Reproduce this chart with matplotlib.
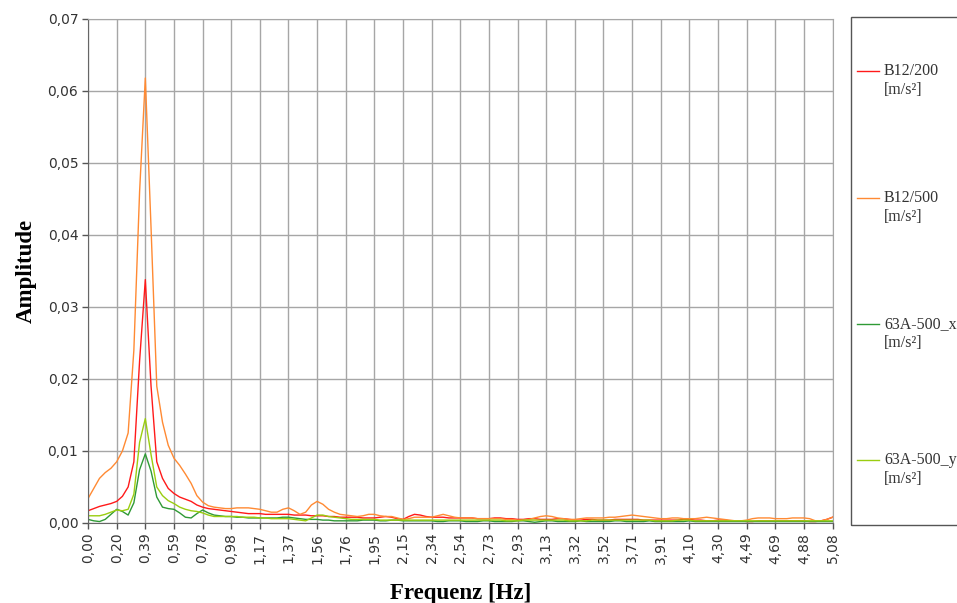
import numpy as np
import matplotlib
matplotlib.use("Agg")
import matplotlib.pyplot as plt
from matplotlib.patches import Rectangle
from matplotlib.lines import Line2D

# frequency resolution of the spectrum (Hz per bin)
df = 0.0390625

tick_labels = ["0,00", "0,20", "0,39", "0,59", "0,78", "0,98", "1,17", "1,37", "1,56",
               "1,76", "1,95", "2,15", "2,34", "2,54", "2,73", "2,93", "3,13", "3,32",
               "3,52", "3,71", "3,91", "4,10", "4,30", "4,49", "4,69", "4,88", "5,08"]

series_names = ["B12/200\n[m/s²]", "B12/500\n[m/s²]", "63A-500_x\n[m/s²]", "63A-500_y\n[m/s²]"]
series_colors = ["#ff1a1a", "#ff8a33", "#2f9a35", "#9acd10"]

b12_200 = [
    0.0017, 0.0020, 0.0023, 0.0025, 0.0027, 0.0030, 0.0037, 0.0050, 0.0085, 0.0225,
    0.0338, 0.0190, 0.0085, 0.0062, 0.0048, 0.0041, 0.0036, 0.0033, 0.0030, 0.0025,
    0.0022, 0.0020, 0.0019, 0.0018, 0.0017, 0.0016, 0.0015, 0.0014, 0.0013, 0.0013,
    0.0013, 0.0012, 0.0012, 0.0012, 0.0012, 0.0012, 0.0011, 0.0011, 0.0011, 0.0010,
    0.0010, 0.0010, 0.0009, 0.0009, 0.0008, 0.0008, 0.0008, 0.0008, 0.0007, 0.0007,
    0.0007, 0.0008, 0.0009, 0.0008, 0.0006, 0.0005, 0.0009, 0.0012, 0.0011, 0.0009,
    0.0008, 0.0008, 0.0008, 0.0007, 0.0007, 0.0007, 0.0007, 0.0007, 0.0006, 0.0006,
    0.0006, 0.0007, 0.0007, 0.0006, 0.0006, 0.0005, 0.0005, 0.0006, 0.0006, 0.0005,
    0.0005, 0.0005, 0.0006, 0.0006, 0.0005, 0.0004, 0.0004, 0.0005, 0.0005, 0.0004,
    0.0004, 0.0004, 0.0005, 0.0005, 0.0005, 0.0005, 0.0005, 0.0004, 0.0004, 0.0004,
    0.0004, 0.0004, 0.0004, 0.0004, 0.0005, 0.0005, 0.0004, 0.0004, 0.0003, 0.0003,
    0.0004, 0.0004, 0.0003, 0.0003, 0.0003, 0.0002, 0.0002, 0.0003, 0.0003, 0.0003,
    0.0003, 0.0003, 0.0003, 0.0003, 0.0003, 0.0003, 0.0002, 0.0002, 0.0003, 0.0005,
    0.0008]

b12_500 = [
    0.0034, 0.0048, 0.0062, 0.0070, 0.0076, 0.0085, 0.0100, 0.0125, 0.0240, 0.0460,
    0.0618, 0.0410, 0.0190, 0.0140, 0.0108, 0.0090, 0.0080, 0.0068, 0.0055, 0.0038,
    0.0029, 0.0024, 0.0022, 0.0021, 0.0020, 0.0020, 0.0021, 0.0021, 0.0021, 0.0020,
    0.0019, 0.0017, 0.0015, 0.0015, 0.0019, 0.0021, 0.0017, 0.0012, 0.0015, 0.0025,
    0.0030, 0.0026, 0.0019, 0.0015, 0.0012, 0.0011, 0.0010, 0.0009, 0.0010, 0.0012,
    0.0012, 0.0010, 0.0009, 0.0009, 0.0007, 0.0005, 0.0006, 0.0008, 0.0008, 0.0008,
    0.0008, 0.0010, 0.0012, 0.0010, 0.0008, 0.0007, 0.0007, 0.0007, 0.0006, 0.0006,
    0.0006, 0.0006, 0.0006, 0.0005, 0.0005, 0.0004, 0.0004, 0.0005, 0.0007, 0.0009,
    0.0010, 0.0009, 0.0007, 0.0006, 0.0005, 0.0005, 0.0006, 0.0007, 0.0007, 0.0007,
    0.0007, 0.0008, 0.0008, 0.0009, 0.0010, 0.0011, 0.0010, 0.0009, 0.0008, 0.0007,
    0.0006, 0.0006, 0.0007, 0.0007, 0.0006, 0.0006, 0.0006, 0.0007, 0.0008, 0.0007,
    0.0006, 0.0005, 0.0004, 0.0003, 0.0003, 0.0004, 0.0006, 0.0007, 0.0007, 0.0007,
    0.0006, 0.0006, 0.0006, 0.0007, 0.0007, 0.0007, 0.0006, 0.0003, 0.0003, 0.0005,
    0.0008]

a63_x = [
    0.0005, 0.0003, 0.0002, 0.0005, 0.0012, 0.0019, 0.0016, 0.0011, 0.0028, 0.0074,
    0.0096, 0.0072, 0.0036, 0.0022, 0.0020, 0.0019, 0.0014, 0.0008, 0.0007, 0.0013,
    0.0018, 0.0014, 0.0011, 0.0010, 0.0009, 0.0009, 0.0008, 0.0008, 0.0007, 0.0007,
    0.0007, 0.0007, 0.0007, 0.0007, 0.0008, 0.0008, 0.0007, 0.0006, 0.0005, 0.0005,
    0.0005, 0.0004, 0.0004, 0.0003, 0.0003, 0.0003, 0.0003, 0.0003, 0.0004, 0.0004,
    0.0004, 0.0003, 0.0003, 0.0004, 0.0004, 0.0003, 0.0003, 0.0003, 0.0003, 0.0003,
    0.0003, 0.0002, 0.0002, 0.0003, 0.0003, 0.0003, 0.0002, 0.0002, 0.0002, 0.0003,
    0.0003, 0.0002, 0.0002, 0.0002, 0.0002, 0.0003, 0.0003, 0.0002, 0.0001, 0.0002,
    0.0003, 0.0003, 0.0002, 0.0002, 0.0002, 0.0002, 0.0003, 0.0002, 0.0002, 0.0002,
    0.0002, 0.0002, 0.0003, 0.0003, 0.0002, 0.0002, 0.0002, 0.0002, 0.0003, 0.0002,
    0.0002, 0.0002, 0.0002, 0.0002, 0.0002, 0.0003, 0.0002, 0.0002, 0.0002, 0.0002,
    0.0002, 0.0002, 0.0002, 0.0002, 0.0002, 0.0002, 0.0002, 0.0002, 0.0002, 0.0002,
    0.0002, 0.0002, 0.0002, 0.0002, 0.0002, 0.0002, 0.0002, 0.0002, 0.0002, 0.0002,
    0.0002]

a63_y = [
    0.0010, 0.0010, 0.0010, 0.0012, 0.0015, 0.0018, 0.0017, 0.0019, 0.0040, 0.0112,
    0.0145, 0.0095, 0.0050, 0.0038, 0.0031, 0.0027, 0.0022, 0.0019, 0.0017, 0.0016,
    0.0014, 0.0011, 0.0009, 0.0009, 0.0009, 0.0009, 0.0009, 0.0008, 0.0008, 0.0008,
    0.0007, 0.0007, 0.0006, 0.0006, 0.0006, 0.0006, 0.0005, 0.0004, 0.0003, 0.0007,
    0.0011, 0.0011, 0.0009, 0.0008, 0.0007, 0.0006, 0.0005, 0.0005, 0.0005, 0.0005,
    0.0005, 0.0004, 0.0004, 0.0004, 0.0004, 0.0004, 0.0004, 0.0004, 0.0004, 0.0004,
    0.0004, 0.0004, 0.0004, 0.0004, 0.0004, 0.0004, 0.0004, 0.0004, 0.0004, 0.0004,
    0.0004, 0.0004, 0.0004, 0.0003, 0.0003, 0.0003, 0.0004, 0.0004, 0.0004, 0.0004,
    0.0004, 0.0004, 0.0004, 0.0004, 0.0003, 0.0003, 0.0003, 0.0003, 0.0004, 0.0004,
    0.0004, 0.0004, 0.0004, 0.0004, 0.0004, 0.0004, 0.0004, 0.0004, 0.0004, 0.0003,
    0.0003, 0.0003, 0.0003, 0.0004, 0.0004, 0.0004, 0.0003, 0.0003, 0.0003, 0.0003,
    0.0003, 0.0003, 0.0003, 0.0003, 0.0003, 0.0003, 0.0003, 0.0003, 0.0003, 0.0003,
    0.0003, 0.0003, 0.0003, 0.0003, 0.0003, 0.0003, 0.0003, 0.0003, 0.0003, 0.0003,
    0.0003]

all_series = [b12_200, b12_500, a63_x, a63_y]

fig = plt.figure(figsize=(9.57, 6.03), dpi=100)
ax = fig.add_axes([0.092, 0.1327, 0.778, 0.8358])

grid_col = "#a6a6a6"
for vals, col in zip(all_series, series_colors):
    freq = np.arange(len(vals)) * df
    ax.plot(freq, vals, color=col, lw=1.0)

n_bins = len(b12_200)
ax.set_xlim(0, (n_bins - 1) * df)
ax.set_ylim(0, 0.07)

tick_font = dict(fontsize=10, family="DejaVu Sans", color="#333333")
ax.set_xticks(np.arange(0, n_bins, 5) * df)
ax.set_xticklabels(tick_labels, rotation=90, **tick_font)
yt = np.arange(0, 0.0701, 0.01)
ax.set_yticks(yt)
ax.set_yticklabels([f"{v:.2f}".replace(".", ",") for v in yt], **tick_font)

ax.grid(True, color=grid_col, lw=1.0)
ax.set_axisbelow(True)
ax.tick_params(direction="out", length=4, color="#555555", width=1, pad=3)
for s in ["left", "bottom"]:
    ax.spines[s].set_color("#666666")
for s in ["top", "right"]:
    ax.spines[s].set_color(grid_col)

ax.set_ylabel("Amplitude", family="Liberation Serif", fontweight="bold", fontsize=16.5, labelpad=8)
ax.set_xlabel("Frequenz [Hz]", family="Liberation Serif", fontweight="bold", fontsize=16.5, labelpad=14)

# legend box, runs off the right edge as in the original
W, H = 957.0, 603.0
fig.patches.append(Rectangle((851 / W, 1 - 525 / H), 200 / W, (525 - 17) / H,
                             transform=fig.transFigure, fill=False, edgecolor="#555555",
                             lw=1.0, clip_on=False))
legend_y = [71, 198, 324, 460]
for name, col, yp in zip(series_names, series_colors, legend_y):
    fy = 1 - yp / H
    fig.lines.append(Line2D([857 / W, 879 / W], [fy, fy], transform=fig.transFigure,
                            color=col, lw=1.0))
    fig.text(884 / W, fy + 8 / H, name, family="Liberation Serif", fontsize=11.5,
             va="top", ha="left", color="#333333", linespacing=1.25)

fig.savefig("out.png", dpi=100)
